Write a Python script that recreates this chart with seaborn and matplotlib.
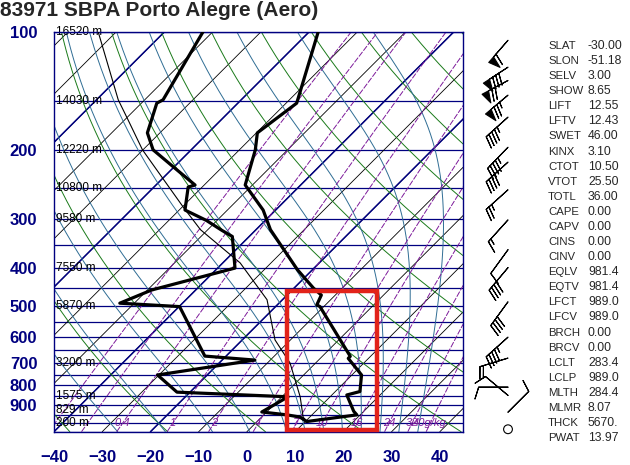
import numpy as np
import pandas as pd
import matplotlib
matplotlib.use('Agg')
import matplotlib.pyplot as plt
import seaborn as sns
from matplotlib.patches import Rectangle
from matplotlib.ticker import NullLocator

# sondagem 83971 SBPA (hPa, graus C)
temp_p = [100, 152, 181, 200, 246, 285, 320, 405, 451, 470, 498, 503, 674, 682, 752, 829, 846, 931, 951, 989]
temp_t = [-68.1, -57.8, -59.8, -56.7, -51.5, -42.6, -37.0, -23.1, -16.0, -12.9, -11.8, -10.8,
          5.8, 5.8, 12.0, 15.1, 13.1, 17.9, 19.3, 10.3]

dew_p = [100, 149, 152, 181, 200, 221, 246, 249, 285, 303, 321, 333, 401, 456, 493, 503,
         673, 689, 752, 832, 855, 935, 951, 963, 989]
dew_t = [-92.0, -86.2, -86.8, -82.6, -77.9, -70.2, -61.9, -62.9, -58.8, -52.2, -47.0, -43.5,
         -36.4, -49.1, -53.0, -39.9, -24.4, -13.2, -30.3, -22.7, 1.3, -1.0, 4.8, 7.9, 10.3]

parcel_p = [100, 149, 168, 200, 280, 320, 389, 483, 612, 701, 855, 963, 989]
parcel_t = [-113.7, -95.5, -89.2, -80.1, -59.8, -51.5, -36.4, -23.2, -13.2, -5.3, 3.8, 8.6, 10.3]

# alturas das isobaras
hgt_p = [100, 150, 200, 250, 300, 400, 500, 700, 850, 925, 1000]
hgt_lab = ['16520 m', '14030 m', '12220 m', '10800 m', '9580 m', '7550 m', '5870 m',
           '3200 m', '1575 m', '829 m', '200 m']

# vento (hPa, direcao graus, nos)
wind_p = [105, 123, 133, 145, 165, 197, 215, 253, 302, 360, 400, 489, 602, 681, 808, 848, 936]
wind_dir = [221, 237, 242, 230, 228, 224, 228, 228, 222, 216, 220, 216, 228, 253, 270, 310, 45]
wind_spd = [60, 80, 70, 75, 45, 45, 40, 25, 15, 10, 40, 40, 45, 20, 10, 10, 10]
calm_p = 1035

# indices
idx_names = ['SLAT', 'SLON', 'SELV', 'SHOW', 'LIFT', 'LFTV', 'SWET', 'KINX', 'CTOT', 'VTOT',
             'TOTL', 'CAPE', 'CAPV', 'CINS', 'CINV', 'EQLV', 'EQTV', 'LFCT', 'LFCV', 'BRCH',
             'BRCV', 'LCLT', 'LCLP', 'MLTH', 'MLMR', 'THCK', 'PWAT']
idx_vals = ['-30.00', '-51.18', '3.00', '8.65', '12.55', '12.43', '46.00', '3.10', '10.50',
            '25.50', '36.00', '0.00', '0.00', '0.00', '0.00', '981.4', '981.4', '989.0',
            '989.0', '0.00', '0.00', '283.4', '989.0', '284.4', '8.07', '5670.', '13.97']

# linhas de fundo
isotherms = list(range(-160, 60, 10))
navy_isotherms = [-100, -70, -40, -20]
dry_theta = list(range(-40, 220, 20))
moist_thw = [-30, -20, -10, -2, 6, 10, 14, 18, 22, 26, 30, 34]
mix_w = [0.1, 0.2, 0.4, 1, 2, 4, 7, 10, 16, 24, 32, 40]
mix_lab = [0.4, 1, 2, 4, 7, 10, 16, 24, 32, 40]

box_x = (8.4, 26.9)
box_p = (460, 1040)

NAVY = '#000080'
GREEN = '#1a7a1a'
TEAL = '#2f6d94'
PURPLE = '#7d1a9a'

sns.set_style("white")
plt.rcParams['font.family'] = ['Liberation Sans', 'DejaVu Sans']

W, H = 630, 465
fig = plt.figure(figsize=(W / 100, H / 100), dpi=100)
AX_L, AX_R, AX_T, AX_B = 54, 463, 32, 431.7
ax = fig.add_axes([AX_L / W, 1 - AX_B / H, (AX_R - AX_L) / W, (AX_B - AX_T) / H])

P_TOP, P_BOT = 100, 1050
X_MIN, X_MAX = -40, 44.8
SKEW = (X_MAX - X_MIN) / np.log(P_BOT / P_TOP) * (AX_B - AX_T) / (AX_R - AX_L)


def skew_x(t, p):
    return np.asarray(t, dtype=float) + SKEW * np.log(P_BOT / np.asarray(p, dtype=float))


def es(tc):
    return 6.112 * np.exp(17.67 * tc / (tc + 243.5))


def moist_lapse(p, tk):
    rd, cp, lv, eps = 287.04, 1005.7, 2.501e6, 0.622
    e = es(tk - 273.15)
    rs = eps * e / (p - e)
    return ((rd * tk + lv * rs) / p) / (cp + lv * lv * rs * eps / (rd * tk * tk))


def moist_line(t0):
    out = []
    for pend, n in ((P_TOP, 300), (P_BOT, 20)):
        ps = np.geomspace(1000, pend, n)
        tk = t0 + 273.15
        ts = [tk]
        for i in range(1, n):
            dp = ps[i] - ps[i - 1]
            k1 = moist_lapse(ps[i - 1], tk)
            k2 = moist_lapse(ps[i - 1] + dp / 2, tk + k1 * dp / 2)
            tk = tk + k2 * dp
            ts.append(tk)
        out.append((ps, np.array(ts) - 273.15))
    ps = np.concatenate([out[1][0][::-1], out[0][0][1:]])
    ts = np.concatenate([out[1][1][::-1], out[0][1][1:]])
    return ps, ts


pp = np.geomspace(P_BOT, P_TOP, 200)
for p in range(100, 1051, 50):
    ax.axhline(p, color=NAVY, lw=0.9, zorder=1)
for t0 in isotherms:
    ax.plot(skew_x(t0, pp), pp, color='black', lw=0.6, zorder=1)
for t0 in navy_isotherms:
    ax.plot(skew_x(t0, pp), pp, color=NAVY, lw=1.1, zorder=1)
for th in dry_theta:
    tt = (th + 273.15) * (pp / 1000.0) ** 0.2857 - 273.15
    ax.plot(skew_x(tt, pp), pp, color=GREEN, lw=0.7, zorder=1)
for tw in moist_thw:
    mp, mt = moist_line(tw)
    ax.plot(skew_x(mt, mp), mp, color=TEAL, lw=0.7, zorder=1)
for w in mix_w:
    lne = np.log(w * pp / (622.0 + w) / 6.112)
    td = 243.5 * lne / (17.67 - lne)
    ax.plot(skew_x(td, pp), pp, color=PURPLE, lw=0.7, ls=(0, (6, 1.5)), zorder=1)
for w in mix_lab:
    lne = np.log(w * 1000.0 / (622.0 + w) / 6.112)
    td = 243.5 * lne / (17.67 - lne)
    lab = '40g/kg' if w == 40 else f'{w:g}'
    ax.text(skew_x(td, 1000), 1000, lab, color=PURPLE, fontsize=8, ha='center',
            va='center', style='italic', zorder=2)

for p, lab in zip(hgt_p, hgt_lab):
    ax.text(X_MIN + 0.4, p, lab, fontsize=8.5, color='black', ha='left', va='center', zorder=2)

# perfis
df_t = pd.DataFrame({'x': skew_x(temp_t, temp_p), 'p': temp_p})
df_d = pd.DataFrame({'x': skew_x(dew_t, dew_p), 'p': dew_p})
df_par = pd.DataFrame({'x': skew_x(parcel_t, parcel_p), 'p': parcel_p})
sns.lineplot(data=df_par, x='x', y='p', sort=False, estimator=None, color='black', lw=0.8, ax=ax, zorder=3)
sns.lineplot(data=df_d, x='x', y='p', sort=False, estimator=None, color='black', lw=2.3, ax=ax, zorder=4)
sns.lineplot(data=df_t, x='x', y='p', sort=False, estimator=None, color='black', lw=2.3, ax=ax, zorder=4)

ax.add_patch(Rectangle((box_x[0], box_p[0]), box_x[1] - box_x[0], box_p[1] - box_p[0],
                       fill=False, ec='#e2231a', lw=3.2, zorder=6, clip_on=False))

ax.set_yscale('log')
ax.set_ylim(P_BOT, P_TOP)
ax.set_xlim(X_MIN, X_MAX)
ax.set_yticks(range(100, 1000, 100))
ax.set_yticklabels([str(v) for v in range(100, 1000, 100)])
ax.yaxis.set_minor_locator(NullLocator())
ax.set_xticks(range(-40, 41, 10))
ax.set_xlabel('')
ax.set_ylabel('')
ax.tick_params(length=0, labelsize=12, labelcolor=NAVY)
ax.tick_params(axis='y', pad=12)
ax.tick_params(axis='x', pad=13)
for lbl in ax.get_xticklabels() + ax.get_yticklabels():
    lbl.set_fontweight('bold')
for s in ax.spines.values():
    s.set_color(NAVY)
    s.set_linewidth(1.0)

# barbelas de vento
axb = fig.add_axes([465 / W, 1 - AX_B / H, 80 / W, (AX_B - AX_T) / H])
axb.set_yscale('log')
axb.set_ylim(P_BOT, P_TOP)
axb.set_xlim(0, 80)
axb.axis('off')
rad = np.deg2rad(wind_dir)
u = -np.array(wind_spd) * np.sin(rad)
v = -np.array(wind_spd) * np.cos(rad)
axb.barbs(np.full(len(wind_p), 43), wind_p, u, v, length=6.5, lw=0.8, color='black',
          flip_barb=True)
axb.scatter([43], [calm_p], s=40, facecolors='none', edgecolors='black', linewidths=0.8,
            clip_on=False)

fig.text(0.0, 1 - 11 / H, '83971 SBPA Porto Alegre (Aero)', fontsize=15, fontweight='bold',
         ha='left', va='center')
for i, (nm, vl) in enumerate(zip(idx_names, idx_vals)):
    yy = 1 - (46 + i * 15.08) / H
    fig.text(548 / W, yy, nm, fontsize=8.2, ha='left', va='center')
    fig.text(588 / W, yy, vl, fontsize=8.8, ha='left', va='center')

fig.savefig('out.png', dpi=100)
